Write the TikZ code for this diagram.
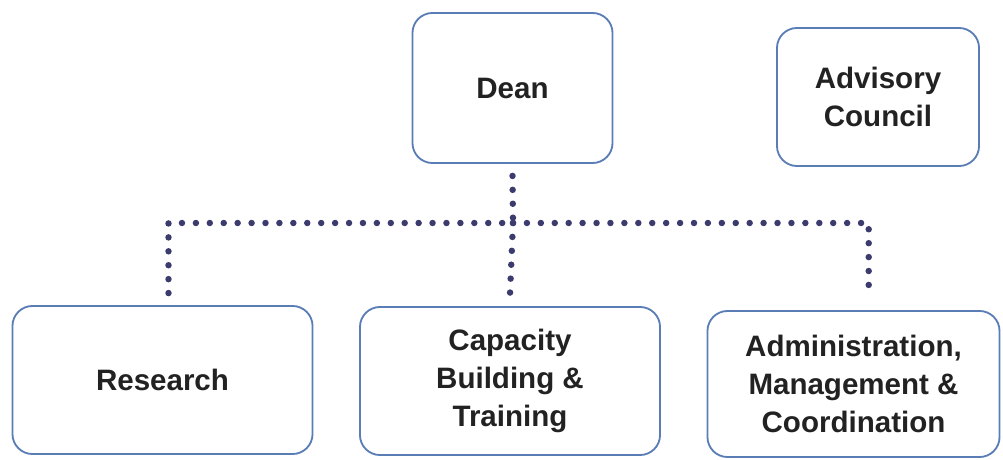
\documentclass[tikz,border=0pt]{standalone}
\usepackage{fontspec}
\setmainfont{Liberation Sans}
\definecolor{boxblue}{HTML}{5A7DB5}
\definecolor{dotnavy}{HTML}{3B3B6E}
\definecolor{inkgray}{HTML}{222222}
\begin{document}
\begin{tikzpicture}[x=0.025cm, y=-0.025cm,
    unit/.style={draw=boxblue, line width=1.3pt, rounded corners=0.5cm, fill=white,
        text=inkgray, font=\fontsize{21}{27}\selectfont\bfseries, align=center, inner sep=0pt},
    dotline/.style={draw=dotnavy, line width=4.6pt, line cap=round, dash pattern=on 0pt off 9.9pt}]
    \useasboundingbox (0,0) rectangle (1003,459);
    % top row
    \node[unit, minimum width=5.0cm, minimum height=3.75cm] (dean) at (512.5,88) {Dean};
    \node[unit, minimum width=5.05cm, minimum height=3.45cm] (advisory) at (878,97)
        {Advisory\\Council};
    % bottom row
    \node[unit, minimum width=7.5cm, minimum height=3.7cm] (research) at (162.5,380) {Research};
    \node[unit, minimum width=7.5cm, minimum height=3.7cm] (capacity) at (510,381)
        {Capacity\\Building \&\\Training};
    \node[unit, minimum width=7.3cm, minimum height=3.65cm] (admin) at (853.5,384)
        {Administration,\\Management \&\\Coordination};

    % dotted links
    \coordinate (hub) at (513,223);
    \draw[dotline] ([yshift=-0.3cm]dean.south) -- (hub);
    \draw[dotline] (hub) -- ([yshift=0.3cm]capacity.north);
    \draw[dotline] ([xshift=0.15cm,yshift=0.3cm]research.north) |- (hub);
    \draw[dotline] (hub) -| ([xshift=0.38cm,yshift=0.4cm]admin.north);
\end{tikzpicture}
\end{document}
